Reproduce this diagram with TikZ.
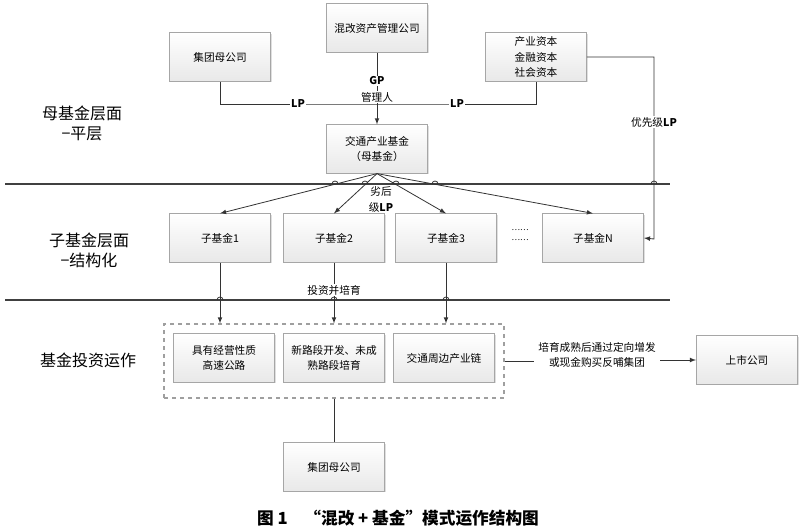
\documentclass[tikz,border=0pt]{standalone}
\usepackage{fontspec}
\setmainfont{Noto Sans CJK SC}
\usetikzlibrary{arrows,shadows,calc}
\tikzset{fund/.style={draw=gray!70,top color=white,bottom color=gray!18,
  drop shadow={opacity=0.25,shadow xshift=0.8pt,shadow yshift=-0.8pt},
  minimum width=76pt,minimum height=36.5pt,align=center,inner sep=2pt,
  font=\fontsize{8}{11.5}\selectfont}}
\tikzset{tag/.style={fill=white,inner sep=1pt,align=center,font=\fontsize{8}{11.5}\selectfont}}
\tikzset{lvl/.style={align=center,font=\fontsize{12}{15}\selectfont}}
\tikzset{sep/.style={line width=1.6pt,draw=black!75}}
\tikzset{link/.style={draw=black!80,line width=0.6pt,>=latex}}
\tikzset{opsbox/.style={draw=gray!75,dashed,line width=0.8pt,minimum width=255pt,minimum height=55.5pt}}

\begin{document}
\begin{tikzpicture}[x=0.75pt,y=-0.75pt]
  \useasboundingbox (0,0) rectangle (800,531);
  % layers
  \draw[sep] (5,184) -- (670,184);
  \draw[sep] (5,300) -- (670,300);
  \node[lvl] (l1) at (82,123) {母基金层面\\−平层};
  \node[lvl] (l2) at (89,250) {子基金层面\\−结构化};
  \node[lvl] (l3) at (88,360) {基金投资运作};

  % mother fund level
  \node[fund] (hg) at (377,28) {混改资产管理公司};
  \node[fund] (jt) at (220,57) {集团母公司};
  \node[fund] (zb) at (536,57) {产业资本\\金融资本\\社会资本};
  \node[fund] (mf) at (377,149) {交通产业基金\\（母基金）};

  % sub funds
  \node[fund] (z1) at (220,238) {子基金1};
  \node[fund] (z2) at (334,238) {子基金2};
  \node[fund] (z3) at (446,238) {子基金3};
  \node[fund] (zn) at (593,238) {子基金N};
  \node[font=\fontsize{6}{8}\selectfont,align=center] (dots) at (520,235) {……\\……};

  % operations
  \node[opsbox] (ops) at (334,361) {};
  \node[fund] (t1) at (224,358) {具有经营性质\\高速公路};
  \node[fund] (t2) at (334,358) {新路段开发、未成\\熟路段培育};
  \node[fund] (t3) at (444,358) {交通周边产业链};
  \node[fund] (ss) at (747,360) {上市公司};
  \node[fund] (jt2) at (334,467) {集团母公司};
  \node[align=center,font=\fontsize{8}{11.5}\selectfont] (pf) at (597,355) {培育成熟后通过定向增发\\或现金购买反哺集团};

  \coordinate (lp) at (377,104);
  \coordinate (yx) at (654,239);
  \draw[link] (jt.south) |- (lp) -| (zb.south);
  \draw[link,->] (hg.south) -- (mf.north);
  \draw[link,->] (zb.east) -| (yx) -- (zn.east);
  \foreach \n in {z1,z2,z3,zn}
    \draw[link,->] (mf.south) -- (\n.north);
  \foreach \n in {z1,z2,z3}
    \draw[link,->] (\n.south) -- (\n.south |- ops.north);
  \draw[link] (ops.east) -- (ops.east -| pf.west);
  \draw[link,->] (ss.west -| pf.east) -- (ss.west);
  \draw[link] (ops.south) -- (jt2.north);

  % line hops
  \foreach \x in {335,365,396,435,654}
    \draw[link] (\x-3,184) arc (180:360:3);
  \foreach \x in {220,334,446}
    \draw[link] (\x-3,300) arc (180:360:3);

  \node[tag] (lp1) at (298,104) {\textbf{LP}};
  \node[tag] (lp2) at (457,104) {\textbf{LP}};
  \node[tag] (gp) at (377,81) {\textbf{GP}};
  \node[tag] (gl) at (377,97) {管理人};
  \node[tag] (yl) at (654,122) {优先级\textbf{LP}};
  \node[tag,fill=none] (lh) at (381,199.5) {劣后\\级\textbf{LP}};
  \node[tag] (tz) at (334,290) {投资并培育};

  \node[font=\bfseries\fontsize{12.5}{15}\selectfont] (cap) at (398,518) {图 1\quad “混改 + 基金”模式运作结构图};
\end{tikzpicture}
\end{document}
